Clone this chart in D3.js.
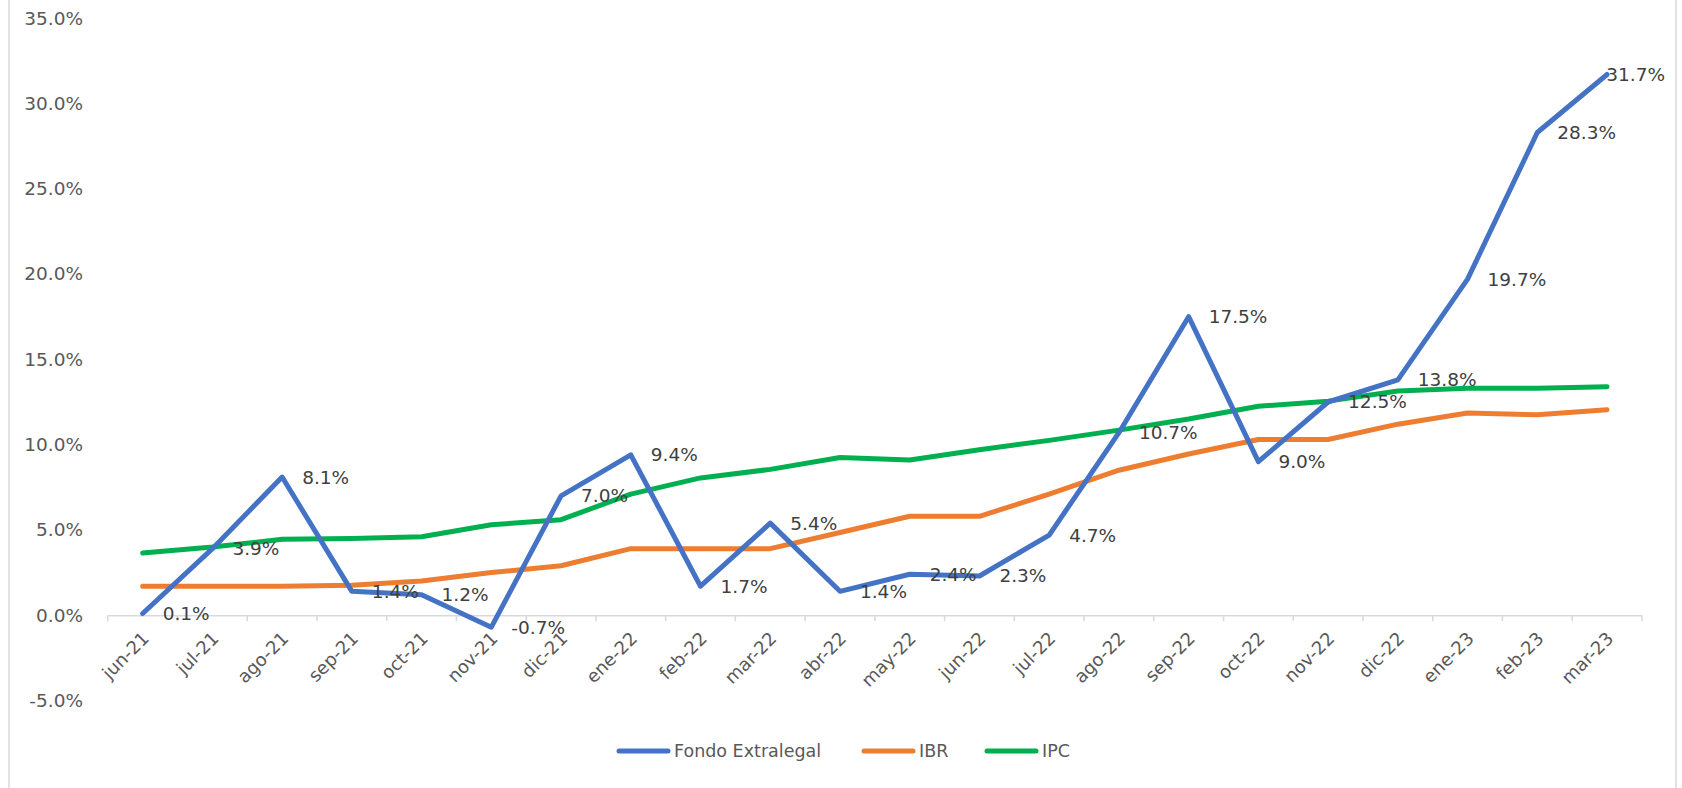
<!DOCTYPE html>
<html>
<head>
<meta charset="utf-8">
<script src="https://cdn.jsdelivr.net/npm/d3@7"></script>
<style>
  body { margin: 0; background: #fff; }
  svg { display: block; font-family: "DejaVu Sans", sans-serif; }
</style>
</head>
<body>
<svg id="chart" width="1682" height="788"></svg>
<script>
const categories = ["jun-21", "jul-21", "ago-21", "sep-21", "oct-21", "nov-21", "dic-21",
    "ene-22", "feb-22", "mar-22", "abr-22", "may-22", "jun-22", "jul-22", "ago-22",
    "sep-22", "oct-22", "nov-22", "dic-22", "ene-23", "feb-23", "mar-23"];
const fondo = [0.1, 3.9, 8.1, 1.4, 1.2, -0.7, 7.0, 9.4, 1.7, 5.4, 1.4, 2.4, 2.3, 4.7,
    10.7, 17.5, 9.0, 12.5, 13.8, 19.7, 28.3, 31.7];
const ibr = [1.7, 1.7, 1.7, 1.75, 2.0, 2.5, 2.9, 3.9, 3.9, 3.9, 4.85, 5.8, 5.8, 7.1,
    8.5, 9.45, 10.3, 10.3, 11.2, 11.85, 11.75, 12.05];
const ipc = [3.65, 4.0, 4.45, 4.5, 4.6, 5.3, 5.6, 7.1, 8.05, 8.55, 9.25, 9.1, 9.7, 10.25,
    10.85, 11.5, 12.25, 12.55, 13.15, 13.3, 13.3, 13.4];
const yTicks = [-5, 0, 5, 10, 15, 20, 25, 30, 35];

const series = [
    {name: "Fondo Extralegal", values: fondo, color: "#4472C4"},
    {name: "IBR", values: ibr, color: "#ED7D31"},
    {name: "IPC", values: ipc, color: "#00B050"}
];

const svg = d3.select("#chart");
const W = 1682, H = 788;

// border of the chart area
svg.append("rect")
    .attr("x", 9).attr("y", -5)
    .attr("width", 1667).attr("height", H + 10)
    .attr("fill", "none")
    .attr("stroke", "#d9d9d9")
    .attr("stroke-width", 1.5);

const x = d3.scaleBand()
    .domain(categories)
    .range([107.8, 1641.9]);
const cx = d => x(d) + x.bandwidth() / 2;

const y = d3.scaleLinear()
    .domain([-5, 35])
    .range([700.5, 18.2]);

// y axis labels
const yAxis = svg.append("g")
    .attr("transform", "translate(83,0)")
    .call(d3.axisLeft(y)
        .tickValues(yTicks)
        .tickSize(0)
        .tickPadding(0)
        .tickFormat(d => d.toFixed(1) + "%"));
yAxis.select(".domain").remove();
yAxis.selectAll("text")
    .style("font-family", "DejaVu Sans")
    .style("font-size", "18.5px")
    .attr("fill", "#595959");

// x axis at 0%
const xAxis = svg.append("g")
    .attr("transform", `translate(0,${y(0)})`)
    .call(d3.axisBottom(x).tickSize(0).tickPadding(0));
xAxis.select(".domain")
    .attr("stroke", "#d9d9d9")
    .attr("stroke-width", 1.5);
xAxis.selectAll(".tick text")
    .style("font-family", "DejaVu Sans")
    .style("font-size", "18px")
    .attr("fill", "#595959")
    .attr("text-anchor", "end")
    .attr("y", 0)
    .attr("dy", "0.35em")
    .attr("transform", "translate(3,20) rotate(-45)");

// tick marks at category boundaries
const bounds = categories.map(c => x(c)).concat([x.range()[1]]);
svg.append("g")
    .selectAll("line")
    .data(bounds)
    .join("line")
    .attr("x1", d => d).attr("x2", d => d)
    .attr("y1", y(0)).attr("y2", y(0) + 6)
    .attr("stroke", "#d9d9d9")
    .attr("stroke-width", 1.5);

// lines (drawn IPC, IBR, then Fondo on top)
const line = d3.line()
    .x((d, i) => cx(categories[i]))
    .y(d => y(d));

series.slice().reverse().forEach(s => {
    svg.append("path")
        .datum(s.values)
        .attr("fill", "none")
        .attr("stroke", s.color)
        .attr("stroke-width", 5)
        .attr("stroke-linejoin", "round")
        .attr("stroke-linecap", "round")
        .attr("d", line);
});

// data labels for Fondo Extralegal
const labels = svg.append("g")
    .selectAll("text")
    .data(fondo)
    .join("text")
    .attr("x", (d, i) => cx(categories[i]) + 20)
    .attr("y", d => y(d))
    .attr("dy", "0.35em")
    .attr("fill", "#404040")
    .style("font-size", "18.5px")
    .text(d => d.toFixed(1) + "%");

// keep labels inside the chart border
labels.each(function() {
    const t = d3.select(this);
    const w = this.getComputedTextLength();
    const x0 = +t.attr("x");
    if (x0 + w > 1665) t.attr("x", 1665 - w);
});

// legend
const legendItems = [
    {name: "Fondo Extralegal", color: "#4472C4", x: 617},
    {name: "IBR", color: "#ED7D31", x: 862},
    {name: "IPC", color: "#00B050", x: 985}
];
const legend = svg.append("g");
legendItems.forEach(item => {
    legend.append("line")
        .attr("x1", item.x + 2).attr("x2", item.x + 51)
        .attr("y1", 751).attr("y2", 751)
        .attr("stroke", item.color)
        .attr("stroke-width", 5)
        .attr("stroke-linecap", "round");
    legend.append("text")
        .attr("x", item.x + 57)
        .attr("y", 751)
        .attr("dy", "0.35em")
        .attr("fill", "#595959")
        .style("font-size", "17.5px")
        .text(item.name);
});
</script>
</body>
</html>
